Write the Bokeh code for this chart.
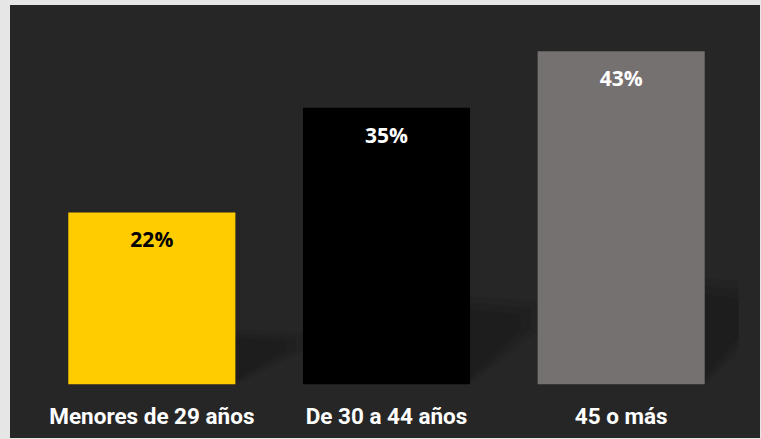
from bokeh.plotting import figure
from bokeh.models import ColumnDataSource, Range1d, FixedTicker
from bokeh.core.properties import value
from bokeh.embed import file_html
from bokeh.resources import INLINE

# ---- data ----
categories = ["Menores de 29 años", "De 30 a 44 años", "45 o más"]
shares = [22.0, 35.4, 42.6]
bar_colors = ["#FFCC00", "#000000", "#767171"]
label_colors = ["#000000", "#FFFFFF", "#FFFFFF"]

BG = "#262626"
BAR_W = 0.712

xs = [i + 0.5 for i in range(len(categories))]
labels = [f"{round(v)}%" for v in shares]

src = ColumnDataSource(dict(x=xs, top=shares, color=bar_colors,
                            label=labels, lcolor=label_colors))

p = figure(width=750, height=433, output_backend="svg", toolbar_location=None,
           x_range=Range1d(0, len(categories)), y_range=Range1d(0, 46.8),
           background_fill_color=BG, border_fill_color=BG,
           min_border_left=24, min_border_right=22, min_border_top=13,
           min_border_bottom=54)
p.styles = {"background-color": BG}
p.outline_line_color = None
p.outline_line_alpha = 0
p.grid.visible = False
p.yaxis.visible = False

# soft perspective shadows behind bars (derived from bar geometry)
def shadow_poly(c, h, s):
    r = c + BAR_W / 2
    ext = 0.30 * (1 - 0.35 * s)
    top0 = h * (0.32 - 0.06 * s)
    top1 = h * (0.30 - 0.06 * s)
    low0 = h * (0.0 + 0.03 * s)
    low1 = h * 0.20
    return [r, r, r + ext, r + ext], [low0, top0, top1, low1]

sh_xs, sh_ys = [], []
for s in (0.0, 0.4, 0.8):
    for c, h in zip(xs, shares):
        px, py = shadow_poly(c, h, s)
        sh_xs.append(px)
        sh_ys.append(py)
p.patches(sh_xs, sh_ys, fill_color="#000000", fill_alpha=0.075, line_color=None)

p.vbar(x="x", top="top", width=BAR_W, bottom=0, fill_color="color",
       line_color=None, source=src)

p.text(x="x", y="top", text="label", text_color="lcolor", source=src,
       text_align="center", text_baseline="middle", y_offset=27,
       text_font=value("Open Sans"), text_font_style="bold",
       text_font_size="21px")

ax = p.xaxis[0]
ax.ticker = FixedTicker(ticks=xs)
ax.major_label_overrides = {x: c for x, c in zip(xs, categories)}
ax.axis_line_color = None
ax.major_tick_line_color = None
ax.minor_tick_line_color = None
ax.major_tick_out = 0
ax.major_tick_in = 0
ax.major_label_standoff = 18
ax.major_label_text_color = "#FFFFFF"
ax.major_label_text_font = "Roboto"
ax.major_label_text_font_style = "bold"
ax.major_label_text_font_size = "22.5px"

html = file_html(p, INLINE)
css = ("<style>html,body{background:#e6e6e6 !important;}"
       "body{padding:5px 0 0 10px !important;box-sizing:border-box !important;}"
       "</style>")
html = html.replace("</head>", css + "</head>", 1)
open("out.html", "w").write(html)
